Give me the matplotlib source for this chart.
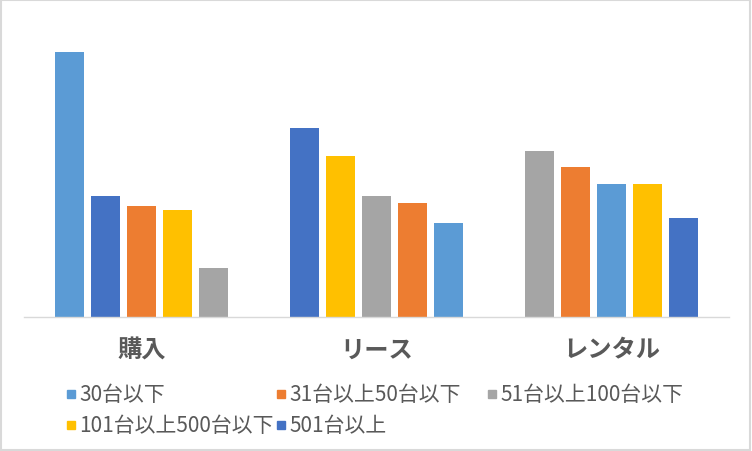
import numpy as np
import matplotlib.pyplot as plt
from matplotlib.patches import Rectangle

plt.rcParams['font.family'] = ['Noto Sans CJK JP', 'DejaVu Sans']

categories = ['購入', 'リース', 'レンタル']
series = ['30台以下', '31台以上50台以下', '51台以上100台以下', '101台以上500台以下', '501台以上']
colors = ['#5B9BD5', '#ED7D31', '#A5A5A5', '#FFC000', '#4472C4']

v_30 = [53.0, 18.8, 26.6]
v_31_50 = [22.2, 22.8, 30.0]
v_51_100 = [9.8, 24.2, 33.2]
v_101_500 = [21.4, 32.2, 26.6]
v_501 = [24.2, 37.8, 19.8]
values = [v_30, v_31_50, v_51_100, v_101_500, v_501]

fig = plt.figure(figsize=(7.52, 4.52), dpi=100)
ax = fig.add_axes([24/752, 1 - 318/452, 705/752, 300/452])

step = 0.153
width = 0.123
for g in range(len(categories)):
    vals = [values[s][g] for s in range(len(series))]
    order = sorted(range(len(series)), key=lambda i: -vals[i])
    for k, s in enumerate(order):
        ax.bar(g + (k - 2) * step, vals[s], width=width, color=colors[s])

ax.set_xlim(-0.5, 2.5)
ax.set_ylim(0, 60)
ax.set_yticks([])
ax.set_xticks(range(len(categories)))
ax.set_xticklabels(categories, fontsize=17.5, fontweight='bold', color='#595959')
ax.tick_params(axis='x', length=0, pad=15)
for sp in ['top', 'right', 'left']:
    ax.spines[sp].set_visible(False)
ax.spines['bottom'].set_color('#D9D9D9')
ax.spines['bottom'].set_linewidth(1)

# legend, row-major with equal column widths
col_x = [67, 277, 488]
row_y = [395, 426]
for i, name in enumerate(series):
    r, c = divmod(i, 3)
    x = col_x[c] / 752
    y = 1 - row_y[r] / 452
    fig.patches.append(Rectangle((x, y - 4/452), 8/752, 8/452,
                                 transform=fig.transFigure, color=colors[i]))
    fig.text(x + 12/752, y, name, fontsize=15, color='#595959', va='center', ha='left')

fig.patches.append(Rectangle((0.001, 0.002), 0.997, 0.995, transform=fig.transFigure,
                             fill=False, edgecolor='#D9D9D9', linewidth=1.5))

fig.savefig('out.png', dpi=100)
